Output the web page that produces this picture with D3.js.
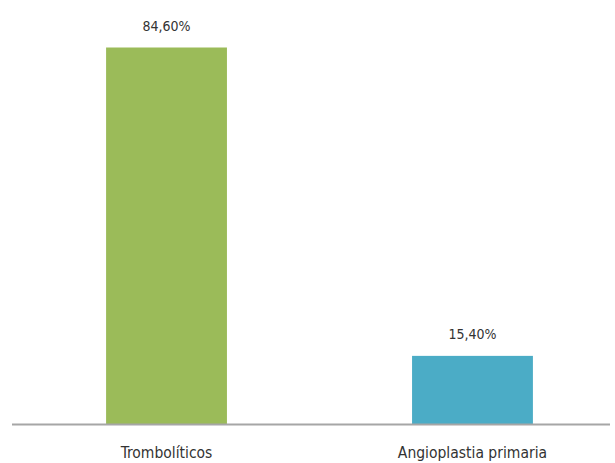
<!DOCTYPE html>
<html>
<head>
<meta charset="utf-8">
<script src="https://cdn.jsdelivr.net/npm/d3@7"></script>
<style>
  html, body { margin: 0; padding: 0; background: #ffffff; }
  svg { display: block; }
</style>
</head>
<body>
<svg id="chart" width="615" height="463"></svg>
<script>
// Treatment categories and their share of patients (%)
const categories = ["Trombolíticos", "Angioplastia primaria"];
const values = [84.6, 15.4];
const valueLabels = ["84,60%", "15,40%"];
const colors = ["#9bbb59", "#4bacc6"];

const svg = d3.select("#chart");
const baseline = 424.5;

const x = d3.scaleBand()
  .domain(categories)
  .range([27, 612])
  .paddingInner(0.605)
  .paddingOuter(0.2585);

const y = d3.scaleLinear()
  .domain([0, 84.6])
  .range([baseline, 47.5]);

const font = "'DejaVu Sans Condensed', 'Liberation Sans Narrow', sans-serif";

// Bars
svg.selectAll("rect.bar")
  .data(values)
  .join("rect")
  .attr("class", "bar")
  .attr("x", (d, i) => x(categories[i]))
  .attr("y", d => y(d))
  .attr("width", x.bandwidth())
  .attr("height", d => baseline - y(d))
  .attr("fill", (d, i) => colors[i]);

// Category axis
const axis = svg.append("g")
  .attr("transform", `translate(0,${baseline})`)
  .call(d3.axisBottom(x).tickSize(0).tickPadding(22));
axis.select(".domain").remove();
axis.append("line")
  .attr("x1", 12).attr("x2", 610)
  .attr("y1", 0).attr("y2", 0)
  .attr("stroke", "#a6a6a6")
  .attr("stroke-width", 2);
axis.selectAll(".tick text")
  .attr("font-family", font)
  .attr("font-size", 15.5)
  .attr("font-stretch", "condensed")
  .attr("fill", "#333");

// Value labels above bars
svg.selectAll("text.val")
  .data(values)
  .join("text")
  .attr("class", "val")
  .attr("x", (d, i) => x(categories[i]) + x.bandwidth() / 2)
  .attr("y", d => y(d) - 17)
  .attr("text-anchor", "middle")
  .attr("font-family", font)
  .attr("font-size", 14)
  .attr("font-stretch", "condensed")
  .attr("fill", "#333")
  .text((d, i) => valueLabels[i]);
</script>
</body>
</html>
